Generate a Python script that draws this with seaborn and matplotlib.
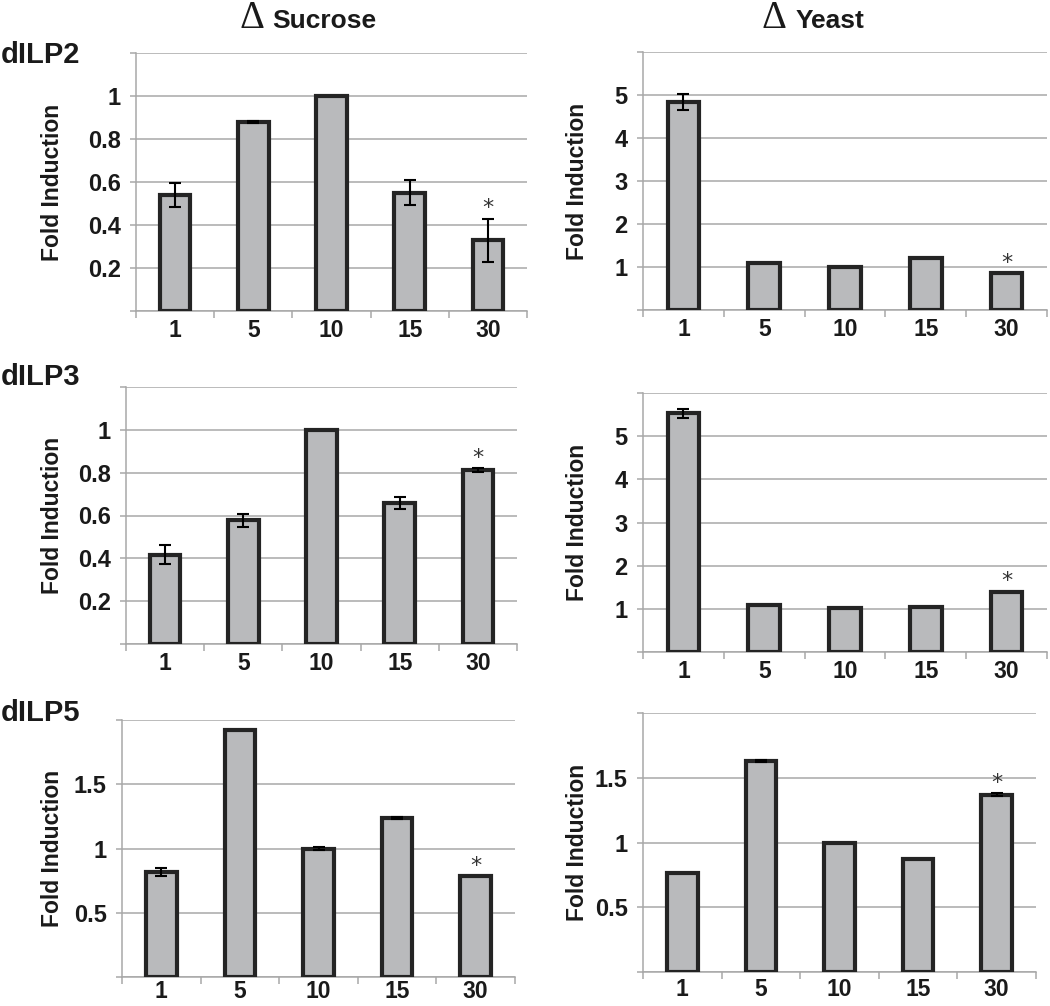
import matplotlib
matplotlib.use("Agg")
import matplotlib.pyplot as plt
import numpy as np
import pandas as pd
import seaborn as sns

# time points (min) on the x axis
times = ["1", "5", "10", "15", "30"]

# fold induction
dilp2_sucrose = [0.54, 0.88, 1.00, 0.55, 0.33]
dilp2_sucrose_err = [0.055, 0.006, 0.0, 0.058, 0.10]
dilp2_yeast = [4.84, 1.10, 1.00, 1.21, 0.86]
dilp2_yeast_err = [0.19, 0.0, 0.0, 0.0, 0.0]

dilp3_sucrose = [0.417, 0.577, 1.00, 0.66, 0.812]
dilp3_sucrose_err = [0.045, 0.03, 0.0, 0.028, 0.008]
dilp3_yeast = [5.53, 1.08, 1.01, 1.05, 1.40]
dilp3_yeast_err = [0.10, 0.0, 0.0, 0.0, 0.0]

dilp5_sucrose = [0.816, 1.924, 1.00, 1.238, 0.785]
dilp5_sucrose_err = [0.03, 0.0, 0.01, 0.006, 0.0]
dilp5_yeast = [0.762, 1.63, 1.00, 0.873, 1.37]
dilp5_yeast_err = [0.0, 0.01, 0.0, 0.0, 0.01]

sucrose_ticks = [0, 0.2, 0.4, 0.6, 0.8, 1.0, 1.2]
sucrose_labels = ["", "0.2", "0.4", "0.6", "0.8", "1", ""]
yeast_ticks = [0, 1, 2, 3, 4, 5, 6]
yeast_labels = ["", "1", "2", "3", "4", "5", ""]
dilp5_ticks = [0, 0.5, 1.0, 1.5, 2.0]
dilp5_labels = ["", "0.5", "1", "1.5", ""]

row_names = ["dILP2", "dILP3", "dILP5"]

sns.set_theme(style="white")
plt.rcParams["font.family"] = ["Liberation Sans", "DejaVu Sans"]

W, H = 1050, 1006
BAR = "#b9babc"
EDGE = "#242424"
GRID = "#a8a8a8"
TXT = "#1a1a1a"

fig = plt.figure(figsize=(W / 100, H / 100), dpi=100)


def rect(l, t, r, b):
    return [l / W, 1 - b / H, (r - l) / W, (b - t) / H]


# (values, errors, ticks, labels, box in pixels, ylabel centre x, x label pad)
panels = [
    (dilp2_sucrose, dilp2_sucrose_err, sucrose_ticks, sucrose_labels, (136, 53, 527, 311), 53, 6),
    (dilp2_yeast, dilp2_yeast_err, yeast_ticks, yeast_labels, (643, 52, 1047, 310), 577, 6),
    (dilp3_sucrose, dilp3_sucrose_err, sucrose_ticks, sucrose_labels, (126, 387, 517, 644), 53, 6),
    (dilp3_yeast, dilp3_yeast_err, yeast_ticks, yeast_labels, (643, 393, 1047, 652), 577, 6),
    (dilp5_sucrose, dilp5_sucrose_err, dilp5_ticks, dilp5_labels, (122, 720, 515, 977), 53, 2),
    (dilp5_yeast, dilp5_yeast_err, dilp5_ticks, dilp5_labels, (643, 713, 1036, 972), 577, 4),
]

for vals, errs, yt, ylabs, box, lab_x, xpad in panels:
    l, t, r, b = box
    ax = fig.add_axes(rect(l, t, r, b))
    df = pd.DataFrame({"time": times, "fold": vals})
    sns.barplot(data=df, x="time", y="fold", color=BAR, saturation=1,
                edgecolor=EDGE, linewidth=3.0, width=0.39, ax=ax, zorder=3)

    pos = np.arange(len(times))
    errs = np.array(errs)
    has = errs > 0
    ax.errorbar(pos[has], np.array(vals)[has], yerr=errs[has], fmt="none",
                ecolor="black", elinewidth=1.5, capsize=4.5, capthick=1.5, zorder=4)

    # significance star on the 30 min bar
    ax.annotate("*", xy=(4, vals[4] + errs[4]), xytext=(0, 3), textcoords="offset points",
                ha="center", va="baseline", fontsize=16, color="#333333",
                family="DejaVu Sans")

    ax.set_xlim(-0.5, 4.5)
    ax.set_ylim(0, yt[-1])
    ax.set_yticks(yt)
    ax.set_yticklabels(ylabs)
    ax.yaxis.grid(True, color=GRID, lw=1.1)
    ax.set_axisbelow(True)
    for s in ["top", "right"]:
        ax.spines[s].set_visible(False)
    for s in ["left", "bottom"]:
        ax.spines[s].set_color(GRID)
        ax.spines[s].set_linewidth(1.1)

    ax.set_xticks(pos)
    ax.set_xticks(np.arange(-0.5, 5, 1), minor=True)
    ax.tick_params(axis="x", which="major", bottom=False, length=0, pad=xpad,
                   labelsize=16.5, labelcolor=TXT)
    ax.tick_params(axis="x", which="minor", bottom=True, length=5, width=1.1, color=GRID)
    ax.tick_params(axis="y", left=True, length=4, width=1.1, color=GRID, pad=7,
                   labelsize=17, labelcolor=TXT)
    for lab in ax.get_xticklabels() + ax.get_yticklabels():
        lab.set_fontweight("bold")

    ax.set_xlabel("")
    ax.set_ylabel("Fold Induction", fontsize=16.5, fontweight="bold", color=TXT)
    ax.yaxis.set_label_coords((lab_x - l) / (r - l), 0.5)
    ax.yaxis.label.set_va("center")

# column headers
fig.text(252 / W, 1 - 28 / H, "Δ", family="Liberation Serif", fontsize=28,
         ha="center", va="baseline", color=TXT)
fig.text(272 / W, 1 - 28 / H, "Sucrose", fontsize=19, fontweight="bold",
         ha="left", va="baseline", color=TXT)
fig.text(774 / W, 1 - 28 / H, "Δ", family="Liberation Serif", fontsize=28,
         ha="center", va="baseline", color=TXT)
fig.text(796 / W, 1 - 28 / H, "Yeast", fontsize=19, fontweight="bold",
         ha="left", va="baseline", color=TXT)

# row labels
for name, y in zip(row_names, [63, 385, 721]):
    fig.text(1 / W, 1 - y / H, name, fontsize=21, fontweight="bold",
             ha="left", va="baseline", color=TXT)

fig.savefig("out.png", dpi=100, facecolor="white")
